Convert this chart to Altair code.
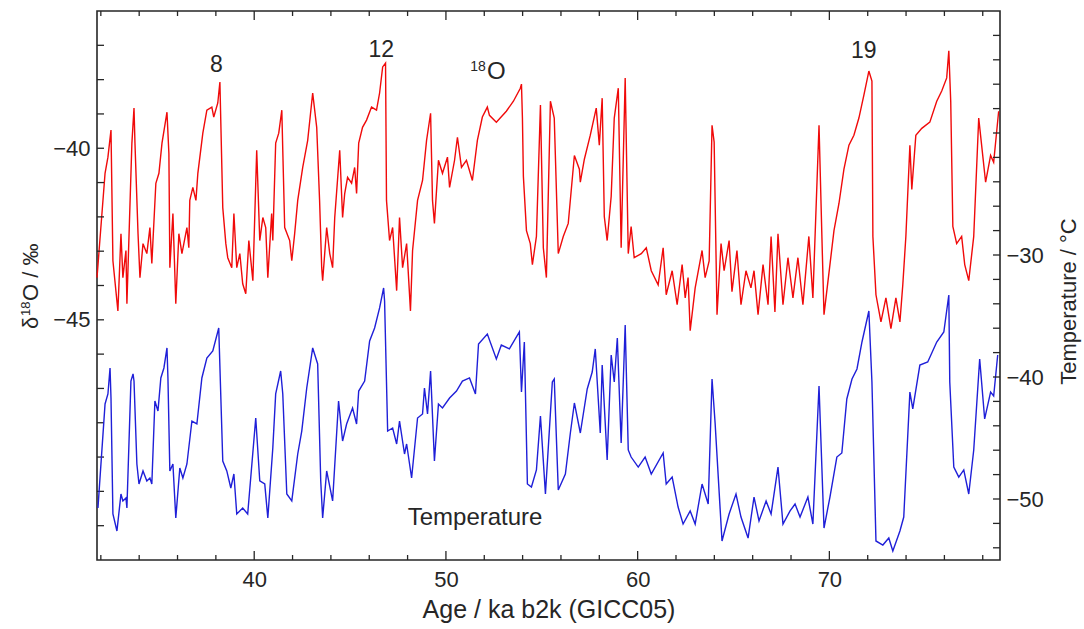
import altair as alt
import pandas as pd

# NGRIP delta-18O record (permil) against age (ka b2k, GICC05)
red_age = [
    31.80, 32.22, 32.37, 32.53, 32.63, 32.89, 33.05, 33.15, 33.31, 33.36,
    33.62, 33.73, 33.78, 33.94, 34.04, 34.20, 34.40, 34.56, 34.66, 34.87,
    35.03, 35.19, 35.45, 35.55, 35.60, 35.76, 35.91, 36.07, 36.23, 36.49,
    36.59, 36.64, 36.80, 36.96, 37.06, 37.32, 37.53, 37.79, 37.89, 38.10,
    38.21, 38.36, 38.52, 38.62, 38.83, 38.94, 39.09, 39.25, 39.40, 39.56,
    39.72, 39.93, 40.13, 40.29, 40.45, 40.60, 40.71, 40.91, 40.97, 41.12,
    41.28, 41.44, 41.49, 41.59, 41.85, 41.96, 42.11, 42.27, 42.53, 42.79,
    43.05, 43.26, 43.41, 43.52, 43.57, 43.78, 43.94, 44.09, 44.20, 44.46,
    44.61, 44.72, 44.87, 45.08, 45.24, 45.34, 45.45, 45.65, 45.86, 46.12,
    46.38, 46.54, 46.70, 46.85, 46.90, 47.06, 47.22, 47.43, 47.58, 47.74,
    47.95, 48.15, 48.26, 48.52, 48.78, 48.99, 49.20, 49.30, 49.40, 49.61,
    49.82, 50.08, 50.19, 50.45, 50.60, 50.81, 51.07, 51.38, 51.64, 51.90,
    52.16, 52.27, 52.63, 53.15, 53.52, 53.88, 53.94, 53.99, 54.04, 54.20,
    54.40, 54.51, 54.72, 54.93, 55.08, 55.24, 55.45, 55.65, 55.86, 56.12,
    56.38, 56.70, 56.96, 57.01, 57.22, 57.53, 57.84, 58.00, 58.15, 58.26,
    58.41, 58.62, 58.78, 58.99, 59.14, 59.35, 59.51, 59.66, 59.82, 60.19,
    60.45, 60.71, 61.07, 61.33, 61.49, 61.80, 62.06, 62.32, 62.48, 62.63,
    62.74, 63.00, 63.36, 63.52, 63.73, 63.88, 63.99, 64.14, 64.35, 64.51,
    64.77, 64.92, 65.18, 65.39, 65.65, 65.91, 66.07, 66.28, 66.54, 66.80,
    66.96, 67.16, 67.32, 67.58, 67.84, 68.10, 68.36, 68.62, 68.93, 69.14,
    69.46, 69.61, 69.72, 70.03, 70.24, 70.50, 70.76, 71.02, 71.28, 71.54,
    71.80, 72.06, 72.22, 72.27, 72.43, 72.69, 72.95, 73.21, 73.47, 73.68,
    73.83, 73.99, 74.20, 74.30, 74.51, 74.82, 75.24, 75.60, 75.86, 76.12,
    76.23, 76.33, 76.44, 76.64, 76.90, 77.06, 77.27, 77.53, 77.79, 78.15,
    78.41, 78.57, 78.83,
]
red_d18o = [
    -43.77, -40.73, -40.26, -39.47, -43.28, -44.74, -42.49, -43.77, -42.98, -44.53,
    -39.85, -38.83, -39.85, -42.49, -43.77, -42.78, -43.07, -42.31, -43.36, -41.02,
    -40.73, -39.85, -38.95, -40.15, -43.48, -41.90, -44.53, -42.49, -43.07, -42.31,
    -42.90, -41.52, -41.14, -41.52, -40.73, -39.56, -38.89, -38.80, -39.09, -38.68,
    -38.07, -41.73, -42.78, -43.19, -43.48, -41.90, -43.48, -43.07, -43.95, -44.24,
    -42.69, -43.86, -40.06, -42.69, -42.02, -42.31, -43.77, -41.90, -42.69, -39.85,
    -39.56, -38.89, -40.06, -42.31, -42.69, -43.28, -42.49, -41.52, -40.56, -39.77,
    -38.39, -39.39, -41.52, -43.48, -43.86, -42.31, -43.07, -43.48, -42.02, -40.06,
    -42.02, -41.32, -40.85, -41.02, -40.56, -41.32, -39.85, -39.39, -39.18, -38.80,
    -38.89, -38.39, -37.63, -37.52, -41.52, -42.69, -42.31, -44.15, -42.02, -43.48,
    -42.78, -44.74, -42.98, -41.52, -40.94, -39.77, -38.98, -41.52, -42.19, -40.35,
    -40.73, -40.26, -41.14, -40.35, -39.68, -40.56, -40.35, -40.94, -39.77, -39.09,
    -38.80, -39.04, -39.24, -38.92, -38.63, -38.25, -38.13, -39.12, -40.82, -42.40,
    -42.78, -43.39, -42.57, -38.74, -42.90, -43.77, -38.63, -39.12, -43.07, -42.57,
    -42.19, -40.21, -40.61, -40.99, -40.32, -39.62, -38.83, -39.91, -38.54, -41.99,
    -42.69, -41.40, -39.12, -38.25, -42.90, -37.95, -43.07, -42.28, -43.19, -43.07,
    -42.90, -43.57, -43.98, -42.90, -44.27, -43.57, -44.56, -43.39, -44.36, -43.77,
    -45.32, -44.07, -42.98, -43.77, -43.28, -39.33, -39.82, -44.85, -42.78, -43.57,
    -42.69, -44.18, -42.98, -44.56, -43.57, -44.07, -43.57, -44.85, -43.39, -44.56,
    -42.57, -44.77, -42.49, -44.56, -43.19, -44.36, -43.19, -44.56, -42.57, -44.36,
    -39.33, -42.57, -44.85, -43.39, -42.40, -41.61, -40.61, -39.91, -39.62, -39.12,
    -38.45, -37.75, -38.04, -42.57, -44.27, -45.06, -44.36, -45.26, -44.36, -45.06,
    -43.98, -42.57, -39.91, -41.20, -39.62, -39.42, -39.24, -38.63, -38.33, -37.95,
    -37.16, -38.63, -42.28, -42.78, -42.57, -43.39, -43.86, -42.57, -39.12, -40.99,
    -40.21, -40.41, -38.92,
]

# Isotope-calibrated temperature (deg C) against age
blue_age = [
    31.85, 32.22, 32.37, 32.48, 32.53, 32.63, 32.84, 33.05, 33.15, 33.31,
    33.36, 33.57, 33.68, 33.73, 33.88, 33.99, 34.20, 34.40, 34.56, 34.66,
    34.82, 34.98, 35.13, 35.29, 35.45, 35.50, 35.60, 35.76, 35.91, 36.12,
    36.28, 36.49, 36.75, 37.01, 37.27, 37.53, 37.84, 38.15, 38.36, 38.57,
    38.78, 38.94, 39.09, 39.40, 39.66, 40.08, 40.29, 40.55, 40.71, 40.97,
    41.12, 41.38, 41.49, 41.70, 41.96, 42.27, 42.48, 42.74, 43.05, 43.31,
    43.47, 43.57, 43.78, 44.09, 44.40, 44.61, 44.82, 45.13, 45.34, 45.45,
    45.76, 46.02, 46.28, 46.54, 46.75, 46.80, 46.96, 47.22, 47.43, 47.58,
    47.84, 47.95, 48.21, 48.52, 48.78, 48.88, 49.04, 49.20, 49.40, 49.61,
    49.82, 50.19, 50.55, 50.86, 51.23, 51.54, 51.70, 52.16, 52.63, 52.89,
    53.31, 53.83, 53.94, 54.09, 54.25, 54.46, 54.72, 54.93, 55.19, 55.55,
    55.65, 55.86, 56.23, 56.49, 56.70, 57.01, 57.37, 57.63, 57.79, 58.05,
    58.15, 58.41, 58.62, 58.78, 58.94, 59.14, 59.35, 59.51, 59.66, 60.03,
    60.39, 60.71, 61.33, 61.49, 61.80, 62.11, 62.37, 62.74, 63.00, 63.36,
    63.68, 63.88, 64.04, 64.40, 64.77, 65.13, 65.39, 65.76, 66.07, 66.33,
    66.70, 66.96, 67.32, 67.58, 67.95, 68.21, 68.47, 68.88, 69.14, 69.46,
    69.72, 70.03, 70.39, 70.65, 70.91, 71.18, 71.44, 71.70, 72.06, 72.22,
    72.43, 72.79, 73.10, 73.31, 73.68, 73.88, 74.20, 74.35, 74.72, 75.13,
    75.60, 75.97, 76.23, 76.28, 76.49, 76.75, 77.01, 77.27, 77.53, 77.84,
    78.10, 78.41, 78.57, 78.78,
]
blue_temp = [
    -50.74, -42.21, -41.39, -39.26, -41.72, -51.23, -52.62, -49.59, -50.16, -49.92,
    -50.74, -40.33, -39.75, -40.33, -47.13, -48.77, -47.70, -48.52, -48.28, -48.77,
    -41.97, -42.79, -40.08, -39.26, -37.62, -40.08, -47.70, -47.13, -51.56, -47.46,
    -48.28, -47.13, -43.61, -43.85, -40.08, -38.44, -37.87, -35.98, -46.89, -47.70,
    -49.10, -47.95, -51.23, -50.74, -51.23, -43.36, -48.52, -48.77, -51.56, -45.82,
    -41.39, -39.51, -41.39, -49.59, -50.16, -46.31, -44.43, -40.90, -37.62, -38.93,
    -48.52, -51.56, -47.70, -50.16, -41.97, -45.25, -43.85, -42.54, -43.85, -41.15,
    -40.33, -37.05, -35.98, -34.34, -32.70, -33.77, -44.43, -44.18, -45.49, -43.61,
    -46.31, -45.49, -48.28, -43.36, -43.03, -40.90, -43.03, -39.51, -46.89, -42.21,
    -42.54, -41.72, -41.15, -40.33, -40.08, -41.39, -37.30, -36.48, -38.52, -37.38,
    -37.70, -36.31, -41.23, -37.13, -48.77, -49.02, -47.62, -43.20, -49.59, -40.41,
    -40.16, -49.26, -47.95, -44.59, -42.13, -44.59, -40.98, -39.59, -37.70, -44.59,
    -39.02, -46.80, -38.20, -40.41, -36.80, -45.41, -35.74, -45.98, -46.56, -47.38,
    -46.56, -47.95, -46.23, -48.77, -48.20, -50.66, -52.05, -50.98, -52.05, -48.77,
    -50.41, -40.16, -43.77, -53.44, -51.23, -49.59, -51.48, -53.20, -49.84, -51.80,
    -50.16, -51.23, -47.38, -52.05, -50.98, -50.41, -51.48, -49.84, -52.05, -40.74,
    -52.38, -49.84, -46.56, -46.23, -41.80, -40.16, -39.34, -37.13, -34.59, -40.41,
    -53.44, -53.77, -53.20, -54.26, -52.62, -51.48, -41.23, -42.62, -39.02, -38.77,
    -37.13, -36.31, -33.28, -40.41, -47.38, -48.20, -47.62, -49.59, -45.98, -38.52,
    -43.44, -41.23, -41.56, -38.20,
]

# Interstadial numbers and series labels
note_text = ["8", "12", "19", "18", "O"]
note_age = [38.03, 46.63, 71.80, 51.67, 52.63]
note_d18o = [-37.57, -37.14, -37.16, -37.63, -37.78]
note_size = [23, 23, 23, 14, 24]

temp_label = ["Temperature"]
temp_label_age = [51.52]
temp_label_temp = [-51.53]

# Axis tick positions
x_major = [40, 50, 60, 70]
x_minor = [32, 34, 36, 38, 42, 44, 46, 48, 52, 54, 56, 58, 62, 64, 66, 68, 72, 74, 76, 78]
d18o_ticks = [-51, -50, -49, -48, -47, -46, -45, -44, -43, -42, -41, -40, -39, -38, -37]
d18o_labels = [-45, -40]
temp_ticks = [-54, -52, -50, -48, -46, -44, -42, -40, -38, -36, -34, -32, -30,
              -28, -26, -24, -22, -20, -18, -16, -14, -12]
temp_labels = [-50, -40, -30]

W, H = 903, 549
FONT = "Liberation Sans"
INK = "#262626"
RED = "#f00a0a"
BLUE = "#1f1fd8"

x_scale = alt.Scale(domain=[31.8, 78.9], nice=False, zero=False)
d_scale = alt.Scale(domain=[-52, -36], nice=False, zero=False)
t_scale = alt.Scale(domain=[-55, -10], nice=False, zero=False)

red_df = pd.DataFrame({"age": red_age, "d18o": red_d18o})
blue_df = pd.DataFrame({"age": blue_age, "temp": blue_temp})
notes_df = pd.DataFrame({"age": note_age, "d18o": note_d18o,
                         "label": note_text, "fs": note_size})
temp_df = pd.DataFrame({"age": temp_label_age, "temp": temp_label_temp,
                        "label": temp_label})
xmaj_df = pd.DataFrame({"age": x_major})
xmin_df = pd.DataFrame({"age": x_minor})
dtick_df = pd.DataFrame({"d18o": d18o_ticks})
ttick_df = pd.DataFrame({"temp": temp_ticks})

x_axis = alt.Axis(
    values=x_major, ticks=False, domain=False, grid=False,
    labelFont=FONT, labelFontSize=22, labelColor=INK, labelPadding=9,
    title="Age / ka b2k (GICC05)", titleFont=FONT, titleFontSize=25,
    titleFontWeight="normal", titleColor=INK, titleY=57,
    titleBaseline="alphabetic",
)
left_axis = alt.Axis(
    orient="left", values=d18o_labels, ticks=False, domain=False, grid=False,
    labelFont=FONT, labelFontSize=22, labelColor=INK, labelPadding=7,
    title=None,
)
right_axis = alt.Axis(
    orient="right", values=temp_labels, ticks=False, domain=False, grid=False,
    labelFont=FONT, labelFontSize=22, labelColor=INK, labelPadding=6,
    title="Temperature / °C", titleFont=FONT, titleFontSize=22,
    titleFontWeight="normal", titleColor=INK, titleAngle=270,
    titleX=68, titleY=290, titleBaseline="middle", titleAlign="center",
)

X = alt.X("age:Q", scale=x_scale, axis=x_axis)

# delta-18O curve with its annotations and frame ticks
red_line = alt.Chart(red_df).mark_line(color=RED, strokeWidth=1.4).encode(
    x=X, y=alt.Y("d18o:Q", scale=d_scale, axis=left_axis)
)
notes = alt.Chart(notes_df).mark_text(font=FONT, color=INK, baseline="middle").encode(
    x=X, y=alt.Y("d18o:Q", scale=d_scale, axis=left_axis),
    text="label:N", size=alt.Size("fs:Q", scale=None, legend=None),
)
left_ticks = alt.Chart(dtick_df).mark_rule(color=INK, strokeWidth=1.3).encode(
    y=alt.Y("d18o:Q", scale=d_scale, axis=left_axis),
    x=alt.value(0), x2=alt.value(7),
)
bottom_minor = alt.Chart(xmin_df).mark_rule(color=INK, strokeWidth=1.3).encode(
    x=X, y=alt.value(H), y2=alt.value(H - 5))
bottom_major = alt.Chart(xmaj_df).mark_rule(color=INK, strokeWidth=1.3).encode(
    x=X, y=alt.value(H), y2=alt.value(H - 9))
top_minor = alt.Chart(xmin_df).mark_rule(color=INK, strokeWidth=1.3).encode(
    x=X, y=alt.value(0), y2=alt.value(5))
top_major = alt.Chart(xmaj_df).mark_rule(color=INK, strokeWidth=1.3).encode(
    x=X, y=alt.value(0), y2=alt.value(9))

# Rotated left-axis title with a raised isotope number
title_parts = [
    ("δ", 22, -59, 318),
    ("18", 13, -67, 305),
    ("O / ‰", 22, -59, 290),
]
title_layers = []
for txt, fs, px, py in title_parts:
    title_layers.append(
        alt.Chart(pd.DataFrame({"t": [txt]})).mark_text(
            text=txt, font=FONT, fontSize=fs, color=INK, angle=270,
            align="left", baseline="alphabetic",
        ).encode(x=alt.value(px), y=alt.value(py))
    )

red_group = alt.layer(
    red_line, notes, left_ticks, bottom_minor, bottom_major, top_minor, top_major,
    *title_layers,
)

# Temperature curve with its label and right-hand ticks
blue_line = alt.Chart(blue_df).mark_line(color=BLUE, strokeWidth=1.4).encode(
    x=X, y=alt.Y("temp:Q", scale=t_scale, axis=right_axis)
)
blue_label = alt.Chart(temp_df).mark_text(
    font=FONT, fontSize=24, color=INK, baseline="middle"
).encode(
    x=X, y=alt.Y("temp:Q", scale=t_scale, axis=right_axis), text="label:N"
)
right_ticks = alt.Chart(ttick_df).mark_rule(color=INK, strokeWidth=1.3).encode(
    y=alt.Y("temp:Q", scale=t_scale, axis=right_axis),
    x=alt.value(W - 7), x2=alt.value(W),
)
blue_group = alt.layer(blue_line, blue_label, right_ticks)

chart = (
    alt.layer(red_group, blue_group)
    .resolve_scale(y="independent")
    .properties(
        width=W, height=H,
        padding={"left": 97, "top": 11, "right": 84, "bottom": 69},
        autosize=alt.AutoSizeParams(type="none"),
        background="white",
    )
    .configure_view(stroke=INK, strokeWidth=1.6)
)

chart.save("out.html", embed_options={"renderer": "svg", "actions": False})
